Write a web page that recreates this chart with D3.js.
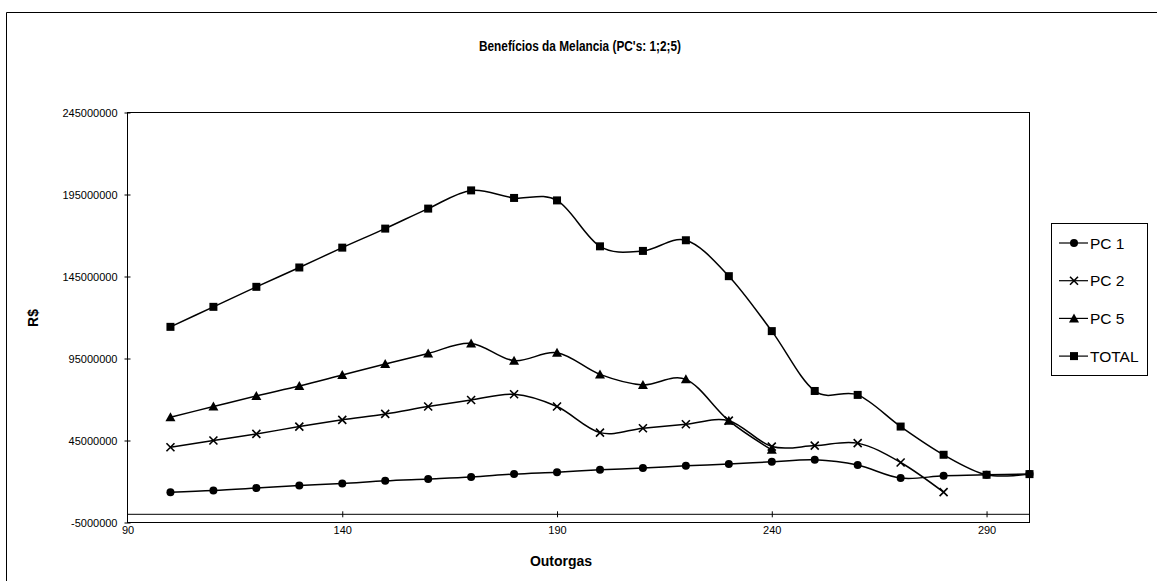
<!DOCTYPE html>
<html>
<head>
<meta charset="utf-8">
<script src="https://cdn.jsdelivr.net/npm/d3@7"></script>
<style>
  html, body { margin: 0; padding: 0; background: #fff; }
  svg { display: block; font-family: "Liberation Sans", Arial, sans-serif; }
</style>
</head>
<body>
<svg id="chart" width="1157" height="581"></svg>
<script>
// Outorgas (x) and benefits in R$ per series
const outorgas = [100, 110, 120, 130, 140, 150, 160, 170, 180, 190, 200, 210, 220, 230, 240, 250, 260, 270, 280, 290, 300];
const pc1 = [13500000, 14500000, 16000000, 17600000, 18800000, 20400000, 21500000, 22700000, 24500000, 25700000,
             27100000, 28200000, 29600000, 30600000, 32000000, 33200000, 30000000, 22100000, 23500000, 24100000, 24500000];
const pc2 = [40900000, 45000000, 49000000, 53500000, 57600000, 61200000, 65700000, 69700000, 73200000, 65700000,
             49800000, 52500000, 54900000, 57100000, 41300000, 41900000, 43400000, 31600000, 13500000];
const pc5 = [59200000, 65700000, 72200000, 78200000, 84900000, 91600000, 98100000, 104200000, 93700000, 98500000,
             85300000, 78900000, 82300000, 57100000, 39300000];
const total = [114300000, 126500000, 138700000, 150500000, 162600000, 174200000, 186400000, 197500000, 192900000, 191400000,
               163400000, 160600000, 167100000, 145200000, 111700000, 75200000, 72800000, 53500000, 36300000, 24100000, 24500000];

const seriesNames = ["PC 1", "PC 2", "PC 5", "TOTAL"];
const seriesValues = [pc1, pc2, pc5, total];
const seriesMarkers = ["circle", "cross", "triangle", "square"];

const yTickValues = [-5000000, 45000000, 95000000, 145000000, 195000000, 245000000];
const xTickValues = [90, 140, 190, 240, 290];

const svg = d3.select("#chart");

// outer chart frame (runs off the right and bottom edges)
svg.append("path")
  .attr("d", "M6.5,581 L6.5,12.5 L1157,12.5")
  .attr("fill", "none").attr("stroke", "#000").attr("stroke-width", 1);

const plot = { left: 127.5, right: 1029.5, top: 112.5, bottom: 522.5 };

const x = d3.scaleLinear().domain([90, 300]).range([plot.left, plot.right]);
const y = d3.scaleLinear().domain([-5000000, 245000000]).range([plot.bottom, plot.top]);

// plot area border
svg.append("rect")
  .attr("x", plot.left).attr("y", plot.top)
  .attr("width", plot.right - plot.left).attr("height", plot.bottom - plot.top)
  .attr("fill", "none").attr("stroke", "#000").attr("stroke-width", 1);

// title (condensed bold)
svg.append("text")
  .attr("x", 580).attr("y", 51)
  .attr("text-anchor", "middle")
  .attr("font-size", 14.5).attr("font-weight", "bold")
  .attr("textLength", 202).attr("lengthAdjust", "spacingAndGlyphs")
  .text("Benefícios da Melancia (PC's: 1;2;5)");

// y axis
const yAxis = svg.append("g")
  .attr("transform", `translate(${plot.left},0)`)
  .call(d3.axisLeft(y).tickValues(yTickValues).tickSizeInner(3).tickSizeOuter(0).tickPadding(7)
        .tickFormat(d => String(d)));
yAxis.select(".domain").remove();
yAxis.selectAll("text").attr("font-size", 11).attr("font-family", "Liberation Sans, Arial, sans-serif");
yAxis.selectAll("line").attr("x2", -3).attr("x1", 3);

svg.append("text")
  .attr("transform", "translate(38,318) rotate(-90)")
  .attr("text-anchor", "middle")
  .attr("font-size", 14).attr("font-weight", "bold")
  .text("R$");

// zero line with x ticks
const xAxis = svg.append("g")
  .attr("transform", `translate(0,${y(0)})`)
  .call(d3.axisBottom(x).tickValues(xTickValues.slice(1)).tickSizeInner(3).tickSizeOuter(0).tickFormat(""));
xAxis.select(".domain").attr("d", `M${plot.left},0H${plot.right}`);
xAxis.selectAll("line").attr("y1", -3).attr("y2", 3);

// x tick labels under the plot
const xLabels = svg.append("g")
  .attr("transform", `translate(0,${plot.bottom})`)
  .call(d3.axisBottom(x).tickValues(xTickValues).tickSize(0).tickPadding(4).tickFormat(d => String(d)));
xLabels.select(".domain").remove();
xLabels.selectAll("text").attr("font-size", 11).attr("font-family", "Liberation Sans, Arial, sans-serif");

svg.append("text")
  .attr("x", 561).attr("y", 566)
  .attr("text-anchor", "middle")
  .attr("font-size", 14).attr("font-weight", "bold")
  .text("Outorgas");

// smoothed series lines
const line = d3.line()
  .x((d, i) => x(outorgas[i]))
  .y(d => y(d))
  .curve(d3.curveCardinal.tension(0));

function drawMarker(g, type, cx, cy) {
  if (type === "circle") {
    g.append("circle").attr("cx", cx).attr("cy", cy).attr("r", 4).attr("fill", "#000");
  } else if (type === "square") {
    g.append("rect").attr("x", cx - 4).attr("y", cy - 4).attr("width", 8).attr("height", 8).attr("fill", "#000");
  } else if (type === "triangle") {
    g.append("path").attr("d", `M${cx},${cy - 5}L${cx + 5},${cy + 4}L${cx - 5},${cy + 4}Z`).attr("fill", "#000");
  } else if (type === "cross") {
    g.append("path").attr("d", `M${cx - 4},${cy - 4}L${cx + 4},${cy + 4}M${cx - 4},${cy + 4}L${cx + 4},${cy - 4}`)
      .attr("stroke", "#000").attr("stroke-width", 1.6).attr("fill", "none");
  }
}

const seriesG = svg.append("g");
seriesValues.forEach((vals, si) => {
  const g = seriesG.append("g");
  g.append("path")
    .attr("d", line(vals))
    .attr("fill", "none").attr("stroke", "#000").attr("stroke-width", 1.5);
  vals.forEach((v, i) => drawMarker(g, seriesMarkers[si], x(outorgas[i]), y(v)));
});

// legend
const legend = svg.append("g");
legend.append("rect")
  .attr("x", 1051.5).attr("y", 223.5).attr("width", 96).attr("height", 152)
  .attr("fill", "#fff").attr("stroke", "#000").attr("stroke-width", 1);
seriesNames.forEach((name, i) => {
  const cy = 243 + i * 37.7;
  legend.append("line").attr("x1", 1059).attr("x2", 1088).attr("y1", cy).attr("y2", cy)
    .attr("stroke", "#000").attr("stroke-width", 1.2);
  drawMarker(legend, seriesMarkers[i], 1074, cy);
  legend.append("text").attr("x", 1090).attr("y", cy + 5.5)
    .attr("font-size", 15.5).text(name);
});
</script>
</body>
</html>
